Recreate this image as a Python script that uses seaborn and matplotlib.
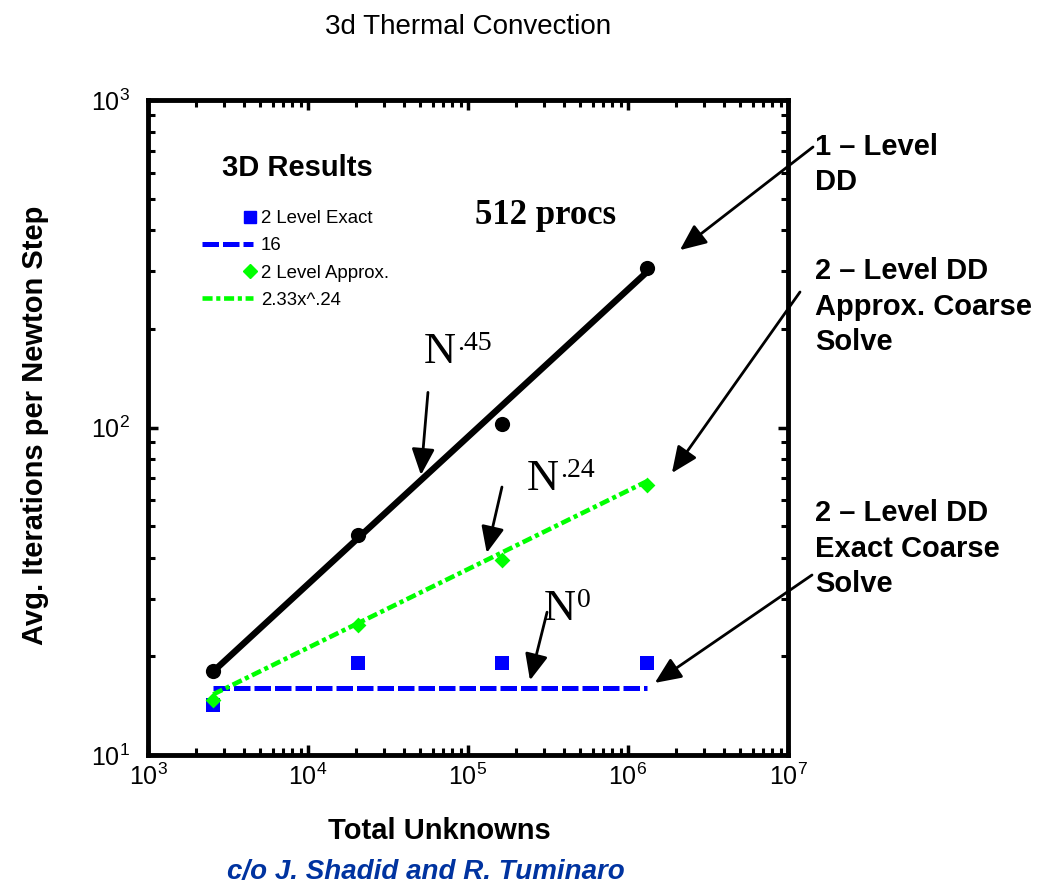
import numpy as np
import pandas as pd
import matplotlib
matplotlib.use("Agg")
import matplotlib.pyplot as plt
from matplotlib.lines import Line2D
from matplotlib.legend_handler import HandlerBase
from matplotlib.ticker import LogLocator, LogFormatterSciNotation, NullFormatter
import seaborn as sns

# Problem sizes (total unknowns) for the scaling study
unknowns = [2560, 20480, 163840, 1310720]

# Average iterations per Newton step
one_level = [18.0, 47.0, 102.5, 307.0]
two_level_exact = [14.2, 19.1, 19.1, 19.1]
two_level_approx = [14.7, 24.9, 39.4, 66.7]

# Fitted growth laws
one_level_exp = 0.45
exact_const = 16
approx_coef = 2.33
approx_exp = 0.24

x_ticks = [1e3, 1e4, 1e5, 1e6, 1e7]
y_ticks = [1e1, 1e2, 1e3]

BLUE = "#0000ff"
GREEN = "#00ff00"
FOOT = "#0033a0"

sns.set_style("ticks")
plt.rcParams["font.family"] = ["Liberation Sans", "DejaVu Sans"]
plt.rcParams["mathtext.default"] = "regular"
for key in ["text.color", "axes.labelcolor", "xtick.color", "ytick.color",
            "axes.edgecolor"]:
    plt.rcParams[key] = "black"

W, H = 1054, 891
fig = plt.figure(figsize=(W / 100, H / 100), dpi=100)
ax = fig.add_axes([148 / W, 1 - 755 / H, 640 / W, 655 / H])


def fx(px):
    return px / W


def fy(py):
    return 1 - py / H


# Fit curves
xs = np.geomspace(unknowns[0], unknowns[-1], 60)
fit_df = pd.DataFrame({
    "x": xs,
    "one": one_level[0] * (xs / unknowns[0]) ** one_level_exp,
    "exact": np.full_like(xs, exact_const, dtype=float),
    "approx": approx_coef * xs ** approx_exp,
})
pts = pd.DataFrame({"x": unknowns, "one": one_level,
                    "exact": two_level_exact, "approx": two_level_approx})

ax.set_xscale("log")
ax.set_yscale("log")

EXACT_DASH = (3.3, 0.8)
APPROX_DASH = (2.2, 0.8, 0.9, 0.8)

sns.lineplot(data=fit_df, x="x", y="one", ax=ax, color="black", lw=4.6,
             solid_capstyle="round", zorder=3)
sns.lineplot(data=fit_df, x="x", y="exact", ax=ax, color=BLUE, lw=3.6,
             zorder=3)
ax.lines[-1].set_dashes(EXACT_DASH)
sns.lineplot(data=fit_df, x="x", y="approx", ax=ax, color=GREEN, lw=3.3,
             zorder=3)
ax.lines[-1].set_dashes(APPROX_DASH)

sns.scatterplot(data=pts, x="x", y="one", ax=ax, color="black", marker="o",
                s=120, linewidth=0, zorder=4)
sns.scatterplot(data=pts, x="x", y="exact", ax=ax, color=BLUE, marker="s",
                s=95, linewidth=0, zorder=4)
sns.scatterplot(data=pts, x="x", y="approx", ax=ax, color=GREEN, marker="D",
                s=65, linewidth=0, zorder=4)

ax.set_xlim(x_ticks[0], x_ticks[-1])
ax.set_ylim(y_ticks[0], y_ticks[-1])
ax.xaxis.set_major_locator(LogLocator(base=10))
ax.yaxis.set_major_locator(LogLocator(base=10))
ax.xaxis.set_minor_locator(LogLocator(base=10, subs=np.arange(2, 10)))
ax.yaxis.set_minor_locator(LogLocator(base=10, subs=np.arange(2, 10)))
ax.xaxis.set_major_formatter(LogFormatterSciNotation())
ax.yaxis.set_major_formatter(LogFormatterSciNotation())
ax.xaxis.set_minor_formatter(NullFormatter())
ax.yaxis.set_minor_formatter(NullFormatter())

for s in ax.spines.values():
    s.set_linewidth(3.5)
    s.set_visible(True)
ax.tick_params(which="both", direction="in", top=True, right=True)
ax.tick_params(which="major", length=7.5, width=2.5, labelsize=18)
ax.tick_params(which="minor", length=5, width=2.2)
ax.tick_params(axis="x", which="major", pad=6)
ax.tick_params(axis="y", which="major", pad=13)

ax.set_xlabel("Total Unknowns", fontsize=21, fontweight="bold")
ax.xaxis.set_label_coords(0.456, -0.095)
ax.xaxis.label.set_va("top")
ax.set_ylabel("Avg. Iterations per Newton Step", fontsize=21,
              fontweight="bold")
ax.yaxis.set_label_coords(-0.177, 0.504)
ax.yaxis.label.set_va("center")


class MarkerBesideText(HandlerBase):
    """Legend handler that puts a lone marker at the right end of the slot."""

    def create_artists(self, legend, orig_handle, xdescent, ydescent,
                       width, height, fontsize, trans):
        m = Line2D([width - xdescent - 0.15 * fontsize],
                   [height / 2 - ydescent],
                   marker=orig_handle.get_marker(),
                   color=orig_handle.get_color(),
                   ms=orig_handle.get_markersize(), ls="none",
                   transform=trans)
        return [m]


# Legend
sq = Line2D([], [], color=BLUE, marker="s", ls="none", ms=8.5)
dm = Line2D([], [], color=GREEN, marker="D", ls="none", ms=7.5)
handles = [
    sq,
    Line2D([], [], color=BLUE, lw=3.6, dashes=EXACT_DASH),
    dm,
    Line2D([], [], color=GREEN, lw=3.3, dashes=APPROX_DASH),
]
labels = ["2 Level Exact", "16", "2 Level Approx.", "2.33x^.24"]
leg = ax.legend(handles, labels, loc="upper left",
                bbox_to_anchor=(0.085, 0.832), frameon=False, fontsize=13.4,
                handlelength=2.7, handletextpad=0.45, labelspacing=0.55,
                borderaxespad=0, borderpad=0,
                handler_map={sq: MarkerBesideText(),
                             dm: MarkerBesideText()})

# Titles and notes
fig.text(fx(468), fy(27), "3d Thermal Convection", ha="center", va="center",
         fontsize=20)
fig.text(fx(222), fy(168), "3D Results", ha="left", va="center",
         fontsize=21, fontweight="bold")
fig.text(fx(475), fy(215), "512 procs", ha="left", va="center",
         fontsize=25, fontweight="bold", family="Liberation Serif")
fig.text(fx(426), fy(872), "c/o J. Shadid and R. Tuminaro", ha="center",
         va="center", fontsize=20, fontweight="bold", style="italic",
         color=FOOT)

# Growth-rate labels: N with a raised exponent
for left, base, sup in [(424, 363, ".45"), (527, 490, ".24"),
                        (544, 620, "0")]:
    fig.text(fx(left), fy(base), "N", family="Liberation Serif",
             fontsize=32, ha="left", va="baseline")
    fig.text(fx(left + 33), fy(base - 13), sup, family="Liberation Serif",
             fontsize=20, ha="left", va="baseline")

# Side notes; anchored on the baseline of their last line
side = dict(ha="left", va="baseline", fontsize=21, fontweight="bold",
            linespacing=1.33)
fig.text(fx(815), fy(190), "1 \u2013 Level\nDD", **side)
fig.text(fx(815), fy(350), "2 \u2013 Level DD\nApprox. Coarse\nSolve", **side)
fig.text(fx(815), fy(592), "2 \u2013 Level DD\nExact Coarse\nSolve", **side)

arrow = dict(arrowstyle="-|>,head_length=1.6,head_width=0.7", color="black",
             lw=2.0, shrinkA=0, shrinkB=0)
# Arrows pointing into the plot from the side notes
ax.annotate("", xy=(2.11e6, 348), xycoords="data",
            xytext=(fx(813), fy(147)), textcoords="figure fraction",
            arrowprops=arrow, annotation_clip=False)
ax.annotate("", xy=(1.88e6, 72.6), xycoords="data",
            xytext=(fx(800), fy(292)), textcoords="figure fraction",
            arrowprops=arrow, annotation_clip=False)
ax.annotate("", xy=(1.47e6, 16.6), xycoords="data",
            xytext=(fx(812), fy(575)), textcoords="figure fraction",
            arrowprops=arrow, annotation_clip=False)
# Arrows from the growth-rate labels to their curves
ax.annotate("", xy=(5.08e4, 71.6), xytext=(5.62e4, 128), arrowprops=arrow)
ax.annotate("", xy=(1.31e5, 41.4), xytext=(1.63e5, 65.8), arrowprops=arrow)
ax.annotate("", xy=(2.44e5, 16.9), xytext=(3.12e5, 27.3), arrowprops=arrow)

fig.savefig("out.png", dpi=100)
